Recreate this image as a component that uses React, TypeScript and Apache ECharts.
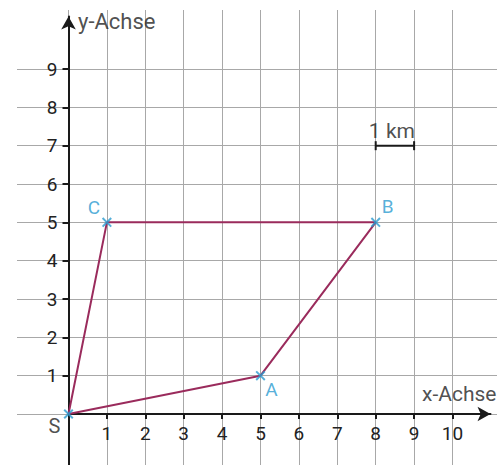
import React, { useEffect, useRef } from "react";
import * as echarts from "echarts";

// Data
const pointNames = ["S", "A", "B", "C"];
const pointX = [0, 5, 8, 1];
const pointY = [0, 1, 5, 5];
const pathOrder = ["S", "A", "B", "C", "S"];
const xTickLabels = [1, 2, 3, 4, 5, 6, 7, 8, 9, 10];
const yTickLabels = [1, 2, 3, 4, 5, 6, 7, 8, 9];
const gridValues = [-1, 0, 1, 2, 3, 4, 5, 6, 7, 8, 9, 10, 11];
const scaleBarX = [8, 9];
const scaleBarY = [7, 7];
const scaleBarText = "1 km";
const axisTitles = ["x-Achse", "y-Achse"];

// Layout
const W = 497;
const H = 465;
const X0 = 68.5;
const Y0 = 414;
const UX = 38.4;
const UY = 38.33;
const PURPLE = "#9a2b5c";
const BLUE = "#2b9bd0";
const INK = "#1a1a1a";
const FONT = "Roboto";

const toX = (px: number) => (px - X0) / UX;
const toY = (py: number) => (Y0 - py) / UY;

export default function App() {
  const ref = useRef<HTMLDivElement>(null);
  useEffect(() => {
    if (!ref.current) return;
    const chart = echarts.init(ref.current, null, { renderer: "svg" });

    // grid 0: paper grid + data; grid 1: x axis; grid 2: y axis
    const g0 = { left: 17, top: 10, right: 0, bottom: 0 };
    const g1 = { left: X0, top: 16.5, right: 6.5, bottom: H - Y0 };
    const g2 = { left: X0, top: 16.5, right: 6.5, bottom: 0 };

    const crossPath =
      "path://M0,1.4 L1.4,0 L5,3.6 L8.6,0 L10,1.4 L6.4,5 L10,8.6 L8.6,10 L5,6.4 L1.4,10 L0,8.6 L3.6,5 Z";

    const labelOffsets: Record<string, [number, number]> = {
      S: [-14, 12],
      A: [11, 14],
      B: [12, -16],
      C: [-13, -15],
    };

    const pts = pointNames.map((n, i) => ({
      name: n,
      value: [pointX[i], pointY[i]],
      symbol: crossPath,
      label: {
        show: true,
        formatter: n,
        position: "inside",
        offset: labelOffsets[n],
        color: n === "S" ? "#222" : BLUE,
        fontSize: n === "S" ? 20 : 19,
        fontFamily: FONT,
      },
    }));

    const poly = pathOrder.map((n) => {
      const i = pointNames.indexOf(n);
      return [pointX[i], pointY[i]];
    });

    const hidden = {
      type: "value",
      show: false,
      axisLine: { show: false },
      axisTick: { show: false },
      axisLabel: { show: false },
      splitLine: { show: false },
    };

    const gridSplit = {
      show: true,
      showMinLine: false,
      showMaxLine: false,
      lineStyle: { color: "#a8a8a8", width: 1 },
    };

    const option: any = {
      animation: false,
      backgroundColor: "#fff",
      grid: [
        { ...g0, containLabel: false, outerBoundsMode: "none" },
        { ...g1, containLabel: false, outerBoundsMode: "none" },
        { ...g2, containLabel: false, outerBoundsMode: "none" },
      ],
      xAxis: [
        {
          type: "value",
          gridIndex: 0,
          min: toX(g0.left),
          max: toX(W - g0.right),
          minInterval: 1,
          maxInterval: 1,
          axisLine: { show: false },
          axisTick: { show: false, customValues: gridValues },
          axisLabel: { show: false },
          splitLine: gridSplit,
        },
        {
          type: "value",
          gridIndex: 1,
          position: "bottom",
          min: 0,
          max: toX(W - g1.right),
          axisLine: {
            show: true,
            onZero: false,
            symbol: ["none", "arrow"],
            symbolSize: [11, 13],
            lineStyle: { color: INK, width: 2 },
          },
          axisTick: {
            show: true,
            customValues: xTickLabels,
            length: 5,
            lineStyle: { color: INK, width: 2 },
          },
          axisLabel: {
            show: true,
            customValues: xTickLabels,
            margin: 10,
            color: "#222",
            fontSize: 19,
            fontFamily: FONT,
          },
          splitLine: { show: false },
        },
        { ...hidden, gridIndex: 2, min: 0, max: 1 },
      ],
      yAxis: [
        {
          type: "value",
          gridIndex: 0,
          min: toY(H - g0.bottom),
          max: toY(g0.top),
          minInterval: 1,
          maxInterval: 1,
          axisLine: { show: false },
          axisTick: { show: false, customValues: gridValues },
          axisLabel: { show: false },
          splitLine: gridSplit,
        },
        { ...hidden, gridIndex: 1, min: 0, max: 1 },
        {
          type: "value",
          gridIndex: 2,
          position: "left",
          min: toY(H - g2.bottom),
          max: toY(g2.top),
          axisLine: {
            show: true,
            onZero: false,
            symbol: ["none", "arrow"],
            symbolSize: [11, 13],
            lineStyle: { color: INK, width: 2 },
          },
          axisTick: {
            show: true,
            customValues: yTickLabels,
            length: 6,
            lineStyle: { color: INK, width: 2 },
          },
          axisLabel: {
            show: true,
            customValues: yTickLabels,
            margin: 11,
            color: "#222",
            fontSize: 19,
            fontFamily: FONT,
          },
          splitLine: { show: false },
        },
      ],
      series: [
        {
          type: "line",
          xAxisIndex: 0,
          yAxisIndex: 0,
          data: poly,
          showSymbol: false,
          symbol: "none",
          lineStyle: { color: PURPLE, width: 2 },
          z: 3,
        },
        {
          type: "line",
          xAxisIndex: 0,
          yAxisIndex: 0,
          data: scaleBarX.map((x, i) => [x, scaleBarY[i]]),
          symbol: "rect",
          symbolSize: [2, 9],
          showSymbol: true,
          itemStyle: { color: INK },
          lineStyle: { color: INK, width: 2 },
          z: 3,
        },
        {
          type: "scatter",
          xAxisIndex: 0,
          yAxisIndex: 0,
          symbolSize: 0,
          data: [
            {
              value: [(scaleBarX[0] + scaleBarX[1]) / 2, scaleBarY[0]],
              label: {
                show: true,
                formatter: scaleBarText,
                position: "inside",
                offset: [-3, -15],
                color: "#222",
                fontSize: 21,
                fontFamily: FONT,
              },
            },
            {
              value: [toX(422), toY(394)],
              label: {
                show: true,
                formatter: axisTitles[0],
                position: "inside",
                align: "left",
                color: "#222",
                fontSize: 21,
                fontFamily: FONT,
              },
            },
            {
              value: [toX(78), toY(21)],
              label: {
                show: true,
                formatter: axisTitles[1],
                position: "inside",
                align: "left",
                color: "#222",
                fontSize: 22,
                fontFamily: FONT,
              },
            },
          ],
          z: 4,
        },
        {
          type: "scatter",
          xAxisIndex: 0,
          yAxisIndex: 0,
          symbolSize: 10,
          itemStyle: { color: BLUE },
          data: pts,
          z: 5,
        },
      ],
    };
    chart.setOption(option);
    return () => chart.dispose();
  }, []);
  return (
    <div
      ref={ref}
      style={{ position: "fixed", left: 0, top: 0, width: W, height: H }}
    />
  );
}
